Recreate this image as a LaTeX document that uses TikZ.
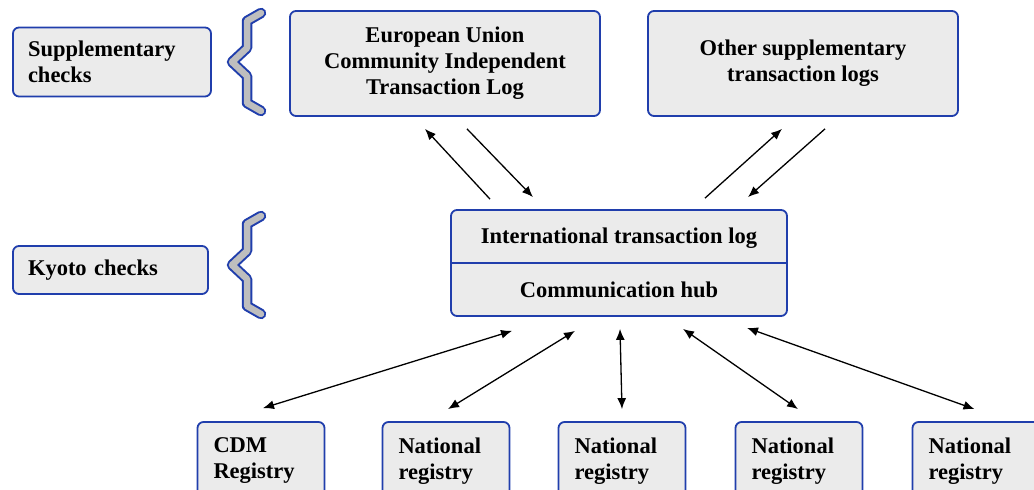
\documentclass[tikz,border=0pt]{standalone}
\usepackage{fontspec}
\setmainfont{Liberation Serif}
\usepackage{tikz}
\usetikzlibrary{positioning,calc,arrows.meta}
\tikzset{>=Latex}
\definecolor{boxblue}{RGB}{32,62,172}
\definecolor{boxgray}{RGB}{235,235,235}
\definecolor{bracegray}{RGB}{190,190,190}
\colorlet{linkcolor}{black}

\begin{document}
\begin{tikzpicture}[x=1pt,y=1pt,
    box/.style={draw=boxblue,line width=1.8pt,fill=boxgray,rounded corners=6pt,inner sep=0pt,
      font=\bfseries\fontsize{22.5}{26}\selectfont},
    checkbox/.style={box,align=left,inner xsep=15pt,text width=#1},
    logbox/.style={box,align=center,minimum width=310pt,minimum height=105pt},
    registry/.style={box,align=left,inner xsep=16pt,text width=95pt,minimum height=78pt},
    flow/.style={-{Latex[length=11pt,width=9pt]},line width=1.3pt,linkcolor},
    link/.style={{Latex[length=11pt,width=9pt]}-{Latex[length=11pt,width=9pt]},line width=1.3pt,linkcolor},
    brace/.style={draw=boxblue,line width=2pt,double=bracegray,double distance=6.5pt,line cap=round,line join=round}]
  \useasboundingbox (0,0) rectangle (1034,490);

  \node [checkbox=168pt,minimum height=69pt] (supp) at (112,428) {Supplementary\\checks};
  \node [checkbox=165pt,minimum height=48pt] (kyoto) at (110.5,220) {Kyoto checks};
  \foreach \by in {0,-203}
    \draw [brace,yshift=\by] (261,477) -- (247,469) -- (247,442) -- (232,428) -- (247,414) -- (247,387) -- (261,379);

  \node [logbox] (eu) at (445,426.5) {European Union\\Community Independent\\Transaction Log};
  \node [logbox] (other) at (803,426.5) {Other supplementary\\transaction logs};

  \node [box,minimum width=336pt,minimum height=106pt] (itl) at (619,227) {};
  \draw [boxblue,line width=1.2pt] (itl.west) -- (itl.east);
  \node [font=\bfseries\fontsize{22.5}{26}\selectfont] (itltitle) at (619,252) {International transaction log};
  \node [font=\bfseries\fontsize{22.5}{26}\selectfont] (hub) at (619,200) {Communication hub};

  \node [registry] (cdm) at (261,29) {CDM\\Registry};
  \node [registry,right=56.2pt of cdm] (nr1) {National\\registry};
  \node [registry,right=47.2pt of nr1] (nr2) {National\\registry};
  \node [registry,right=48.2pt of nr2] (nr3) {National\\registry};
  \node [registry,right=48.2pt of nr3] (nr4) {National\\registry};

  \draw [flow] ($(itl.north)+(-129,10)$) -- ($(eu.south)+(-20,-12)$);
  \draw [flow] ($(eu.south)+(22,-12)$) -- ($(itl.north)+(-86,12)$);
  \draw [flow] ($(itl.north)+(86,11)$) -- ($(other.south)+(-21,-12)$);
  \draw [flow] ($(other.south)+(22,-12)$) -- ($(itl.north)+(129,12)$);

  \draw [link] ($(itl.south)+(-107,-14)$) -- ($(cdm.north)+(2,13)$);
  \draw [link] ($(itl.south)+(-44,-14)$) -- ($(nr1.north)+(2,12)$);
  \draw [link] ($(itl.south)+(1,-12)$) -- ($(nr2.north)+(0,12)$);
  \draw [link] ($(itl.south)+(64,-12)$) -- ($(nr3.north)+(-1,12)$);
  \draw [link] ($(itl.south)+(128,-11)$) -- ($(nr4.north)+(-1.5,12)$);
\end{tikzpicture}
\end{document}
